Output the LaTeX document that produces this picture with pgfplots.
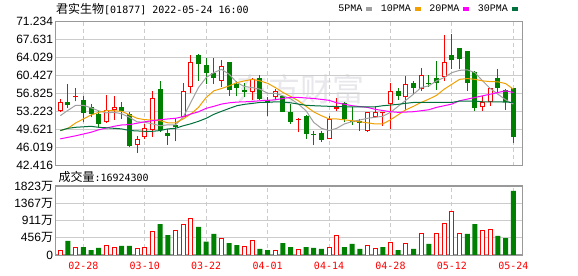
\documentclass[border=0pt]{standalone}
\usepackage{pgfplots}
\pgfplotsset{compat=1.18}
\usepackage{pgfplotstable}
\usepackage{fontspec}
\setmainfont{Liberation Sans}
\newfontfamily\cjk{Noto Sans CJK SC}
\newfontfamily\dmono{DejaVu Sans Mono}
\newfontfamily\lmono{Liberation Mono}
\definecolor{cred}{HTML}{FF0000}
\definecolor{cgreen}{HTML}{008000}
\definecolor{maA}{HTML}{A0A0A0}
\definecolor{maB}{HTML}{F0A000}
\definecolor{maC}{HTML}{FF00FF}
\definecolor{maD}{HTML}{00703C}
\definecolor{cgrid}{HTML}{CCCCCC}
\definecolor{cborder}{HTML}{999999}
\definecolor{wm}{HTML}{E8E8EC}

\pgfplotstableread{
i o c h l
0 53.35 55.08 55.80 53.15
2 56.07 56.40 58.06 55.28
6 51.10 53.62 56.53 50.97
7 53.62 54.09 56.27 51.63
10 46.60 47.66 48.45 45.01
11 48.12 49.90 50.77 47.66
12 49.58 56.00 57.27 48.12
16 52.22 57.40 59.05 52.09
17 58.19 63.16 64.49 56.94
21 59.38 62.37 63.56 58.26
25 57.20 59.71 60.05 55.61
28 56.07 57.40 57.86 55.61
31 51.63 51.83 51.90 49.11
35 47.66 51.76 52.42 47.66
36 53.75 54.09 55.87 53.42
40 49.45 53.22 53.22 49.11
41 52.22 53.22 54.42 52.09
42 52.90 53.10 53.22 50.44
43 54.75 57.40 58.92 49.78
45 56.07 58.85 60.38 53.62
47 57.86 60.58 62.04 57.40
50 60.25 63.16 68.53 59.38
55 54.09 55.21 56.40 53.42
56 55.08 58.06 58.06 54.42
}\redtab

\pgfplotstableread{
i o c h l
1 55.08 54.55 58.72 53.90
3 55.61 52.96 56.27 51.10
4 54.09 52.76 54.75 52.10
5 52.76 50.77 53.42 50.10
8 54.09 53.42 55.08 51.76
9 52.76 46.34 53.22 46.14
13 57.86 49.64 59.38 49.11
14 48.92 48.38 49.78 46.60
15 50.64 50.11 51.76 47.26
18 64.49 62.70 64.68 59.38
19 62.57 60.91 64.02 58.72
20 61.04 60.05 64.02 58.72
22 63.16 57.53 63.16 56.40
23 58.72 57.93 59.38 56.27
24 57.47 57.20 59.05 56.07
26 60.05 55.74 60.51 55.61
27 55.60 55.20 56.07 52.42
29 56.27 53.22 56.53 53.09
30 53.22 51.24 54.75 50.77
32 52.42 48.78 52.55 47.79
33 48.78 48.58 49.45 46.60
34 48.92 47.59 49.45 47.13
37 54.88 51.76 55.08 51.10
38 51.24 51.10 54.09 50.57
39 51.30 50.97 51.76 49.45
44 57.27 56.40 58.06 55.61
46 58.92 58.06 59.38 56.73
48 58.95 58.85 60.58 58.26
49 60.05 58.92 63.36 57.60
51 64.49 63.56 68.80 61.84
52 66.01 63.69 66.01 61.70
53 65.35 59.05 65.35 57.40
54 61.24 53.90 61.44 53.42
57 60.05 58.06 61.71 57.07
58 57.60 55.08 57.73 53.62
59 58.06 48.12 58.06 46.99
}\greentab

\pgfplotstableread{
i v
0 106
2 203
6 255
7 203
10 176
11 203
12 625
15 652
16 819
17 969
21 440
24 229
25 370
28 123
31 150
35 211
36 520
40 255
41 176
43 343
45 291
47 572
49 572
50 837
51 1154
52 555
55 652
56 678
}\volred

\pgfplotstableread{
i v
1 370
3 211
4 132
5 185
8 238
9 238
13 819
14 528
18 740
19 352
20 555
22 317
23 264
26 159
27 132
29 317
30 211
32 211
33 185
34 159
37 211
38 291
39 159
42 211
44 132
46 159
48 291
53 555
54 819
57 502
58 449
59 1692
}\volgreen

\pgfplotstableread{
i v
0 52.43
1 53.50
2 54.50
3 54.50
4 54.00
5 53.40
6 53.00
7 53.10
8 52.80
9 52.10
10 51.20
11 51.10
12 50.80
13 50.40
14 50.60
15 50.60
16 52.10
17 55.10
18 58.06
19 60.05
20 61.04
21 61.71
22 60.70
23 59.05
24 58.26
25 58.06
26 57.73
27 56.90
28 56.90
29 56.40
30 55.80
31 54.75
32 53.42
33 51.10
34 49.90
35 49.45
36 49.90
37 50.77
38 51.24
39 51.56
40 51.90
41 52.10
42 52.30
43 53.09
44 54.30
45 55.50
46 56.73
47 58.06
48 58.40
49 59.39
50 60.05
51 61.04
52 61.50
53 61.60
54 61.04
55 59.39
56 57.86
57 56.73
58 55.60
59 54.75
}\maAtab

\pgfplotstableread{
i v
0 49.45
1 49.90
2 50.97
3 51.77
4 52.56
5 53.09
6 53.42
7 53.42
8 53.30
9 52.60
10 51.90
11 51.63
12 51.56
13 51.43
14 51.00
15 51.00
16 51.77
17 52.76
18 54.09
19 56.07
20 57.40
21 57.86
22 58.40
23 59.05
24 59.39
25 59.70
26 59.39
27 58.90
28 58.06
29 57.07
30 56.27
31 55.41
32 54.30
33 53.20
34 52.43
35 51.77
36 51.77
37 51.60
38 51.43
39 51.20
40 51.00
41 50.77
42 50.77
43 51.60
44 52.60
45 53.60
46 54.30
47 55.08
48 55.74
49 56.50
50 57.73
51 58.72
52 59.70
53 59.85
54 59.70
55 59.39
56 59.25
57 59.20
58 58.85
59 57.73
}\maBtab

\pgfplotstableread{
i v
0 47.79
2 48.40
4 49.11
5 49.60
7 50.30
8 50.57
9 50.64
11 51.20
12 51.43
13 51.63
14 51.77
15 51.90
16 52.23
17 52.76
18 53.20
19 53.90
20 54.30
21 54.75
22 55.00
23 55.15
24 55.20
25 55.28
26 55.41
27 55.50
28 55.60
29 55.87
30 56.10
31 56.07
33 55.87
35 55.50
36 55.00
38 54.42
40 54.09
41 53.70
43 53.22
44 53.09
45 53.15
46 53.22
47 53.42
48 53.62
49 54.09
50 54.42
51 54.75
52 55.41
53 55.74
54 56.07
55 56.40
56 56.73
57 57.07
58 57.40
59 57.07
}\maCtab

\pgfplotstableread{
i v
0 49.45
1 49.90
2 50.10
4 50.30
5 50.10
7 49.90
8 49.78
9 49.45
11 49.30
12 49.30
13 49.45
14 49.78
15 49.90
16 50.40
17 50.80
18 51.30
19 51.90
20 52.70
21 53.30
22 53.88
23 54.42
24 54.70
25 54.88
26 55.08
27 55.08
28 55.20
29 55.15
30 55.00
31 54.75
32 54.50
33 54.42
35 54.30
37 54.20
39 54.20
41 54.20
42 54.42
43 54.55
44 54.70
45 54.90
46 55.08
49 55.08
51 55.08
52 55.35
54 55.35
55 55.20
57 55.20
59 55.08
}\maDtab

\begin{document}
\begin{tikzpicture}
\path[use as bounding box, fill=white] (0,0) rectangle (578bp,276bp);
\node[text=wm, font=\cjk\fontsize{32bp}{32bp}\selectfont, inner sep=0pt] at (300bp,187bp) {东方财富};

\node[anchor=base west, inner sep=0pt] at (56bp,262bp) {{\cjk\fontsize{12bp}{12bp}\selectfont 君实生物}{\dmono\fontsize{10bp}{10bp}\selectfont [01877] 2022-05-24 16:00}};
\node[anchor=base west, inner sep=0pt] at (58.3bp,94.5bp) {{\cjk\fontsize{12bp}{12bp}\selectfont 成交量}{\dmono\fontsize{10bp}{10bp}\selectfont :16924300}};

\begin{axis}[
  at={(55.7bp,110.3bp)}, anchor=south west,
  scale only axis, width=466.6bp, height=144bp,
  xmin=-0.6, xmax=60.17, ymin=42.416, ymax=71.234,
  axis line style={draw=cborder, line width=1.2bp},
  xtick={3,11,19,27,35,43,51,59}, xticklabels={},
  ytick={42.416,46.019,49.621,53.223,56.825,60.427,64.029,67.631,71.234},
  yticklabels={42.416,46.019,49.621,53.223,56.825,60.427,64.029,67.631,71.234},
  /pgf/number format/assume math mode=true,
  major tick length=0pt,
  xmajorgrids, ymajorgrids,
  major x grid style={draw=cgrid, line width=1bp, dash pattern=on 4bp off 3bp},
  major y grid style={draw=cgrid, line width=1bp},
  yticklabel style={font=\fontsize{12bp}{12bp}\selectfont, text=black, anchor=east, inner sep=0pt, xshift=-2.5bp},
  legend columns=4, legend plot pos=right,
  legend image code/.code={\fill (0bp,-1.5bp) rectangle (5bp,1.5bp);},
  legend style={at={(0.6057,1.088)}, anchor=west, draw=none, fill=none, inner sep=0pt, outer sep=0pt,
    font=\lmono\fontsize{10bp}{10bp}\selectfont, nodes={inner sep=0pt},
    /tikz/every odd column/.append style={column sep=4bp},
    /tikz/every even column/.append style={column sep=8.5bp}},
]
% wicks
\addplot[forget plot, draw=none, mark=none, error bars/.cd, y dir=plus, y explicit, error mark=none,
  error bar style={draw=cred, line width=1bp}]
  table[x=i, y=l, y error plus expr=\thisrow{h}-\thisrow{l}] {\redtab};
\addplot[forget plot, draw=none, mark=none, error bars/.cd, y dir=plus, y explicit, error mark=none,
  error bar style={draw=cgreen, line width=1bp}]
  table[x=i, y=l, y error plus expr=\thisrow{h}-\thisrow{l}] {\greentab};
% bodies
\addplot[forget plot, draw=none, mark=none, error bars/.cd, y dir=plus, y explicit, error mark=none,
  error bar style={draw=cgreen, line width=5bp}]
  table[x=i, y=c, y error plus expr={max(\thisrow{o}-\thisrow{c},0.2)}] {\greentab};
\addplot[forget plot, draw=none, mark=none, error bars/.cd, y dir=plus, y explicit, error mark=none,
  error bar style={draw=cred, line width=5bp}]
  table[x=i, y=o, y error plus expr={max(\thisrow{c}-\thisrow{o},0.2)}] {\redtab};
\addplot[forget plot, draw=none, mark=none, error bars/.cd, y dir=plus, y explicit, error mark=none,
  error bar style={draw=white, line width=3bp}]
  table[x=i, y expr=\thisrow{o}+0.2, y error plus expr={max(\thisrow{c}-\thisrow{o}-0.4,0)}] {\redtab};
% moving averages
\addplot[color=maA, line width=1bp, mark=none] table[x=i, y=v] {\maAtab};
\addlegendentry{5PMA}
\addplot[color=maB, line width=1bp, mark=none] table[x=i, y=v] {\maBtab};
\addlegendentry{10PMA}
\addplot[color=maC, line width=1bp, mark=none] table[x=i, y=v] {\maCtab};
\addlegendentry{20PMA}
\addplot[color=maD, line width=1bp, mark=none] table[x=i, y=v] {\maDtab};
\addlegendentry{30PMA}
\end{axis}

\begin{axis}[
  at={(55.7bp,21bp)}, anchor=south west,
  scale only axis, width=466.6bp, height=69bp,
  xmin=-0.6, xmax=60.17, ymin=0, ymax=1823,
  axis line style={draw=cborder, line width=1.2bp},
  xtick={3,11,19,27,35,43,51,59},
  xticklabels={02-28,03-10,03-22,04-01,04-14,04-28,05-12,05-24},
  xticklabel style={font=\dmono\fontsize{10bp}{10bp}\selectfont, text=cred, anchor=north, inner sep=0pt, yshift=-6.5bp},
  ytick={0,456,911,1367,1823},
  yticklabels={0,{456{\cjk 万}},{911{\cjk 万}},{1367{\cjk 万}},{1823{\cjk 万}}},
  yticklabel style={font=\fontsize{12bp}{12bp}\selectfont, text=black, anchor=east, inner sep=0pt, xshift=-2.5bp},
  major tick length=0pt,
  xmajorgrids, ymajorgrids,
  major x grid style={draw=cgrid, line width=1bp, dash pattern=on 4bp off 3bp},
  major y grid style={draw=cgrid, line width=1bp},
]
\addplot[ybar, bar width=4bp, bar shift=0pt, draw=cred, fill=white, line width=1bp] table[x=i, y=v] {\volred};
\addplot[ybar, bar width=5bp, bar shift=0pt, draw=none, fill=cgreen] table[x=i, y=v] {\volgreen};
\end{axis}
\end{tikzpicture}
\end{document}
